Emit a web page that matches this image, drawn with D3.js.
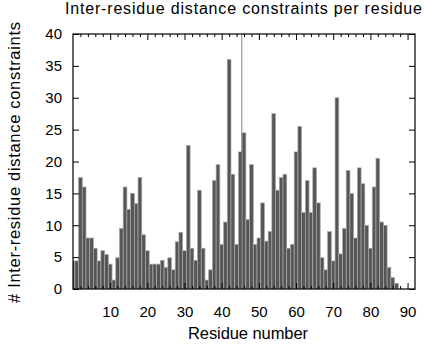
<!DOCTYPE html>
<html>
<head>
<meta charset="utf-8">
<script src="https://cdn.jsdelivr.net/npm/d3@7"></script>
<style>
  body { margin: 0; background: #fff; }
  svg text { font-family: "Liberation Sans", Arial, Helvetica, sans-serif; fill: #000; }
</style>
</head>
<body>
<svg id="chart" width="424" height="344"></svg>
<script>
// Residue numbers (bars centred on each residue)
const residues = d3.range(0, 88);
// Number of inter-residue distance constraints per residue
const constraints = [
  4.4, 4.4, 17.5, 16, 8, 8, 6.4, 4.4, 6, 5.4,
  3.9, 1.4, 4.9, 9.5, 16, 12.5, 15, 13.4, 17.5, 8.5,
  6, 3.9, 3.9, 3.9, 4.5, 3.4, 4.9, 3, 7.4, 8.9,
  6, 22.5, 6.4, 4.5, 15.5, 6.4, 1.4, 3, 17, 19.5,
  7, 10.5, 36, 18, 7, 21.5, 24.5, 10.9, 19.5, 7,
  8, 13.5, 7.5, 9, 27.5, 15.5, 17.5, 18, 6.4, 7,
  21.5, 25.5, 12, 17, 12, 19, 13.5, 4.9, 3, 9,
  4.4, 30, 5.5, 9.5, 18.6, 15, 8, 19, 16.5, 10,
  6.4, 16, 20.5, 10.5, 10, 3.4, 1.8, 0.9
];
const xTickValues = [10, 20, 30, 40, 50, 60, 70, 80, 90];
const yTickValues = [0, 5, 10, 15, 20, 25, 30, 35, 40];
const markerPosition = 45.4;

const title = "Inter-residue distance constraints per residue";
const xTitle = "Residue number";
const yTitle = "# Inter-residue distance constraints";

const svg = d3.select("#chart");
const plotLeft = 73, plotRight = 415, plotTop = 34, plotBottom = 289;

const x = d3.scaleLinear().domain([0, 92]).range([plotLeft, plotRight]);
const y = d3.scaleLinear().domain([0, 40]).range([plotBottom, plotTop]);

svg.append("clipPath").attr("id", "plotClip")
  .append("rect").attr("x", plotLeft).attr("y", plotTop)
  .attr("width", plotRight - plotLeft).attr("height", plotBottom - plotTop);

const data = residues.map((r, i) => ({ r, v: constraints[i] }));

// bars
svg.append("g").attr("clip-path", "url(#plotClip)")
  .selectAll("rect").data(data).join("rect")
  .attr("x", d => x(d.r - 0.5))
  .attr("width", d => x(d.r + 0.5) - x(d.r - 0.5))
  .attr("y", d => y(d.v))
  .attr("height", d => y(0) - y(d.v))
  .attr("fill", "#565656")
  .attr("stroke", "#a9a9a9")
  .attr("stroke-width", 0.7);

// vertical marker line
svg.append("line")
  .attr("x1", x(markerPosition)).attr("x2", x(markerPosition))
  .attr("y1", y(40)).attr("y2", y(0))
  .attr("stroke", "#666").attr("stroke-width", 0.8);

// axes with inward ticks, mirrored on the opposite sides
const minorX = d3.range(2, 92, 2).filter(v => v % 10 !== 0);
function styleAxis(g) {
  g.select(".domain").remove();
  g.selectAll("line").attr("stroke", "#000").attr("stroke-width", 1);
  g.selectAll("text").attr("font-size", 15);
}
svg.append("g").attr("transform", `translate(0,${plotBottom})`)
  .call(d3.axisBottom(x).tickValues(xTickValues).tickSize(-6).tickPadding(17).tickFormat(d3.format("d")))
  .call(styleAxis);
svg.append("g").attr("transform", `translate(0,${plotBottom})`)
  .call(d3.axisBottom(x).tickValues(minorX).tickSize(-3).tickFormat(""))
  .call(styleAxis);
svg.append("g").attr("transform", `translate(0,${plotTop})`)
  .call(d3.axisTop(x).tickValues(xTickValues).tickSize(-6).tickFormat(""))
  .call(styleAxis);
svg.append("g").attr("transform", `translate(0,${plotTop})`)
  .call(d3.axisTop(x).tickValues(minorX).tickSize(-3).tickFormat(""))
  .call(styleAxis);
svg.append("g").attr("transform", `translate(${plotLeft},0)`)
  .call(d3.axisLeft(y).tickValues(yTickValues).tickSize(-6).tickPadding(11).tickFormat(d3.format("d")))
  .call(styleAxis);
svg.append("g").attr("transform", `translate(${plotRight},0)`)
  .call(d3.axisRight(y).tickValues(yTickValues).tickSize(-6).tickFormat(""))
  .call(styleAxis);

// frame
svg.append("rect").attr("x", plotLeft).attr("y", plotTop)
  .attr("width", plotRight - plotLeft).attr("height", plotBottom - plotTop)
  .attr("fill", "none").attr("stroke", "#000").attr("stroke-width", 1.2);

// titles
svg.append("text").attr("x", 243.5).attr("y", 14)
  .attr("text-anchor", "middle").attr("font-size", 16)
  .attr("textLength", 357).attr("lengthAdjust", "spacing").text(title);
svg.append("text").attr("x", 248).attr("y", 339)
  .attr("text-anchor", "middle").attr("font-size", 16.5)
  .attr("textLength", 120).attr("lengthAdjust", "spacing").text(xTitle);
svg.append("text").attr("transform", "translate(20,162.5) rotate(-90)")
  .attr("text-anchor", "middle").attr("font-size", 16.5)
  .attr("textLength", 281).attr("lengthAdjust", "spacing").text(yTitle);
</script>
</body>
</html>
